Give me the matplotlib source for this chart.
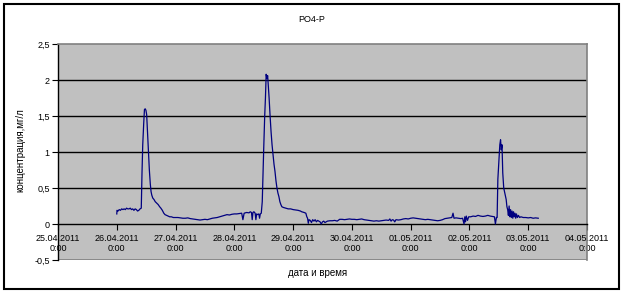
import matplotlib
matplotlib.use("Agg")
import matplotlib.pyplot as plt
import pandas as pd
from matplotlib.patches import Rectangle

plt.rcParams['font.family'] = ['Liberation Sans', 'DejaVu Sans']

title = "PO4-P"
y_label = "концентрация,мг/л"
x_label = "дата и время"

# hours since 25.04.2011 0:00
hours = [24.0, 24.1, 24.5, 25, 25.5, 26, 26.5, 27, 27.5, 28, 28.5, 29, 29.5, 30, 30.5, 31, 31.5, 32, 32.5, 33, 33.5, 34,
         34.3, 34.6, 35.0, 35.3, 35.6, 35.9, 36.2, 36.6, 37.0, 37.3, 37.7, 38.0, 38.3, 38.7, 39.2, 39.7, 40.3, 40.9,
         41.5, 42.0, 42.6, 43.2, 43.7, 44.3, 45, 45.6, 46.3, 47.1, 48, 49, 50, 51, 52, 53, 54, 55, 56, 57, 58, 59,
         60, 61, 62, 63, 64, 65, 66, 67, 68, 69, 70, 71, 72, 73, 74, 75, 75.5, 76, 77, 78, 78.5, 79, 79.3, 79.6,
         80, 80.5, 80.8, 81.1, 81.5, 82, 82.3, 82.6, 83, 83.4, 83.7, 84.0, 84.4, 84.7, 85.0, 85.3, 85.6, 85.9,
         86.2, 86.6, 87.0, 87.4, 87.8, 88.2, 88.6, 89.0, 89.4, 89.8, 90.2, 90.6, 91.0, 91.4, 92, 93, 94, 95, 96,
         97, 98, 99, 99.5, 100.5, 101.2, 101.6, 101.9, 102.2, 102.5, 103, 103.5, 104, 104.5, 105, 105.5, 106,
         106.5, 107, 107.5, 108, 108.5, 109, 110, 111, 112, 113, 114, 115, 116, 117, 118, 119, 120, 121, 122,
         123, 124, 125, 126, 127, 128, 129, 130, 131, 132, 133, 134, 135, 135.5, 136, 136.5, 137, 137.5, 138,
         139, 140, 141, 142, 143, 144, 145, 146, 147, 148, 149, 150, 151, 152, 153, 154, 155, 156, 157, 158,
         159, 160, 160.8, 161.3, 161.7, 162.5, 163.5, 164.5, 165.2, 165.8, 166.1, 166.4, 166.7, 167.2, 167.7,
         168.5, 169.5, 170.5, 171.5, 172.5, 173.5, 174.5, 175.5, 176.5, 177.5, 178.2, 178.6, 179.0, 179.3,
         179.6, 180.0, 180.4, 180.7, 181.0, 181.3, 181.6, 182.0, 182.5, 183.0, 183.3, 183.6, 183.9, 184.2,
         184.5, 184.8, 185.1, 185.4, 185.7, 186.0, 186.3, 186.6, 186.9, 187.2, 187.6, 188.0, 188.5, 189, 190,
         191, 192, 193, 194, 195, 196.1]
po4p = [0.14, 0.19, 0.18, 0.20, 0.19, 0.21, 0.20, 0.21, 0.20, 0.22, 0.21, 0.21, 0.22, 0.20, 0.21, 0.19, 0.21, 0.20, 0.18, 0.19, 0.21, 0.22,
        0.71, 1.1, 1.4, 1.59, 1.60, 1.58, 1.52, 1.24, 0.95, 0.75, 0.55, 0.45, 0.40, 0.36, 0.34, 0.31, 0.29, 0.27,
        0.24, 0.22, 0.19, 0.15, 0.13, 0.12, 0.11, 0.10, 0.10, 0.09, 0.09, 0.09, 0.085, 0.08, 0.08, 0.085, 0.075, 0.07, 0.065, 0.06, 0.055, 0.06,
        0.065, 0.06, 0.07, 0.08, 0.085, 0.09, 0.10, 0.11, 0.12, 0.13, 0.125, 0.135, 0.14, 0.14, 0.145, 0.15, 0.06, 0.15, 0.16, 0.155, 0.17, 0.16, 0.06, 0.16,
        0.17, 0.15, 0.06, 0.14, 0.13, 0.14, 0.08, 0.14, 0.15, 0.31, 0.7, 1.05, 1.5, 1.75, 2.08, 2.02, 2.06, 1.9,
        1.75, 1.5, 1.28, 1.1, 0.96, 0.83, 0.73, 0.6, 0.5, 0.43, 0.38, 0.31, 0.27, 0.24, 0.23, 0.22, 0.21, 0.21, 0.20,
        0.195, 0.19, 0.18, 0.17, 0.16, 0.15, 0.10, 0.08, 0.01, 0.06, 0.05, 0.02, 0.06, 0.04, 0.06, 0.03, 0.05,
        0.04, 0.03, 0.0, 0.03, 0.04, 0.02, 0.04, 0.045, 0.045, 0.05, 0.04, 0.065, 0.065, 0.06, 0.065, 0.07, 0.065, 0.065, 0.06,
        0.065, 0.07, 0.06, 0.055, 0.05, 0.045, 0.04, 0.045, 0.04, 0.045, 0.05, 0.055, 0.05, 0.07, 0.04, 0.06, 0.055, 0.03, 0.06,
        0.055, 0.06, 0.07, 0.075, 0.07, 0.08, 0.085, 0.08, 0.075, 0.07, 0.065, 0.06, 0.065, 0.06, 0.055, 0.05, 0.045, 0.05, 0.06, 0.075,
        0.08, 0.085, 0.09, 0.15, 0.08, 0.085, 0.08, 0.075, 0.08, 0.0, 0.1, 0.03, 0.11, 0.05, 0.1,
        0.1, 0.11, 0.105, 0.12, 0.11, 0.105, 0.11, 0.12, 0.11, 0.105, 0.1, 0.0, 0.09, 0.09,
        0.62, 0.85, 1.1, 1.17, 1.03, 1.1, 0.71, 0.5, 0.42, 0.34, 0.24, 0.2, 0.12, 0.25,
        0.1, 0.2, 0.09, 0.18, 0.08, 0.17, 0.1, 0.15, 0.08, 0.14, 0.09, 0.12, 0.09, 0.1, 0.09,
        0.09, 0.085, 0.09, 0.08, 0.085, 0.08]

y_ticks = [-0.5, 0, 0.5, 1, 1.5, 2, 2.5]
y_tick_labels = ["-0,5", "0", "0,5", "1", "1,5", "2", "2,5"]
x_tick_dates = ["2011-04-25", "2011-04-26", "2011-04-27", "2011-04-28", "2011-04-29",
                "2011-04-30", "2011-05-01", "2011-05-02", "2011-05-03", "2011-05-04"]
x_tick_labels = ["25.04.2011\n0:00", "26.04.2011\n0:00", "27.04.2011\n0:00", "28.04.2011\n0:00",
                 "29.04.2011\n0:00", "30.04.2011\n0:00", "01.05.2011\n0:00", "02.05.2011\n0:00",
                 "03.05.2011\n0:00", "04.05.2011\n0:00"]

start = pd.Timestamp("2011-04-25")
times = start + pd.to_timedelta(hours, unit="h")
xt = pd.to_datetime(x_tick_dates)

W, H = 623, 293
fig = plt.figure(figsize=(W / 100, H / 100), dpi=100)
fig.patch.set_facecolor('white')
ax = fig.add_axes([58 / W, 1 - 260 / H, (587 - 58) / W, (260 - 44) / H])
ax.set_facecolor('#C0C0C0')

for g in [0.5, 1, 1.5, 2]:
    ax.axhline(g, color='black', lw=1.0, zorder=1)
ax.axhline(-0.5, color='#808080', lw=1.2, zorder=1)

ax.plot(times, po4p, color='#000080', lw=0.9, zorder=3)

ax.set_ylim(-0.5, 2.5)
ax.set_xlim(xt[0], xt[-1])
ax.set_yticks(y_ticks)
ax.set_yticklabels(y_tick_labels)
ax.set_xticks(xt)
ax.set_xticklabels(x_tick_labels, linespacing=1.4)

ax.spines['bottom'].set_position(('data', 0))
ax.spines['bottom'].set_color('black')
ax.spines['bottom'].set_linewidth(1.0)
ax.spines['left'].set_color('black')
ax.spines['left'].set_linewidth(1.0)
for s in ['top', 'right']:
    ax.spines[s].set_color('#808080')
    ax.spines[s].set_linewidth(1.2)

ax.tick_params(axis='y', direction='out', length=4, width=0.8, labelsize=6.5, pad=2, colors='black')
ax.tick_params(axis='x', direction='out', length=4, width=0.8, labelsize=6.5, pad=3, colors='black')

fig.text(312 / W, 1 - 19 / H, title, ha='center', va='center', fontsize=6.5)
fig.text(20 / W, 1 - 150 / H, y_label, rotation=90, ha='center', va='center', fontsize=7)
fig.text(318 / W, 1 - 273 / H, x_label, ha='center', va='center', fontsize=7)

fig.patches.append(Rectangle((4 / W, 4 / H), (619 - 4) / W, (289 - 4) / H, transform=fig.transFigure,
                             fill=False, edgecolor='black', lw=1.5))

fig.savefig("out.png", dpi=100)
